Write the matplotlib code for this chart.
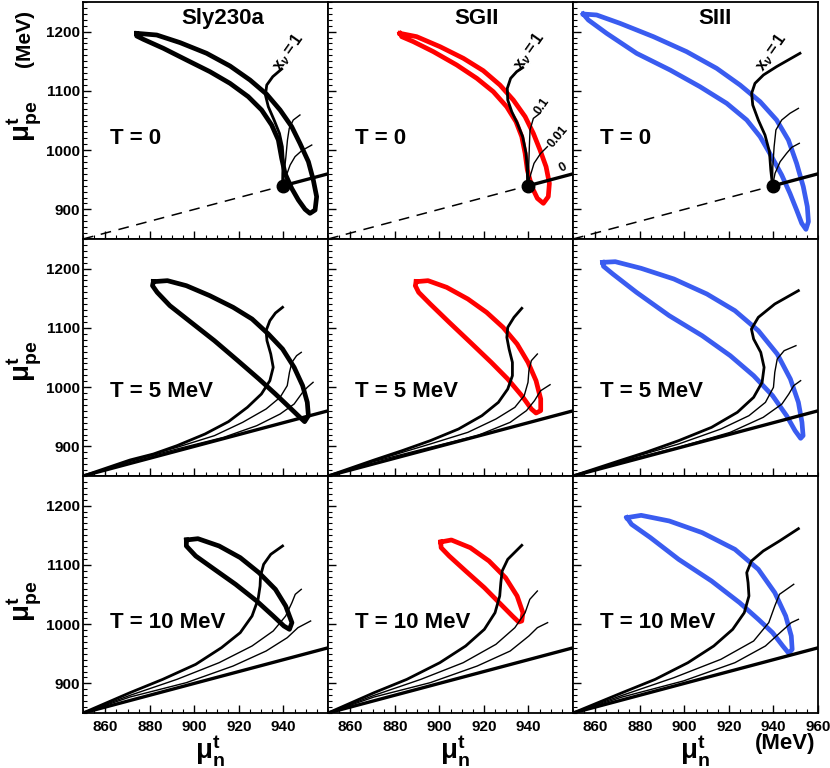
import numpy as np
import matplotlib
matplotlib.use("Agg")
import matplotlib.pyplot as plt
from matplotlib.ticker import MultipleLocator

plt.rcParams['font.family'] = ['Liberation Sans', 'DejaVu Sans']
plt.rcParams['font.weight'] = 'bold'
plt.rcParams['mathtext.fontset'] = 'custom'
plt.rcParams['mathtext.rm'] = 'Liberation Sans:bold'
plt.rcParams['mathtext.bf'] = 'Liberation Sans:bold'
plt.rcParams['mathtext.it'] = 'Liberation Sans:italic'

# ---- data (mu_n, mu_pe in MeV) ----
models = ['Sly230a', 'SGII', 'SIII']
temps = ['T = 0', 'T = 5 MeV', 'T = 10 MeV']
loop_colors = ['black', '#ff0000', '#3a5cf0']
mass_n = 939.6

# instability contours (closed loops)
sly_t0_loop = ([874.1, 883.1, 893.6, 905.5, 916.0, 925.0, 932.5, 938.5, 943.7, 947.4, 951.2, 953.4, 954.9, 954.2, 951.9,
                949.7, 946.7, 943.7, 940.7, 939.2, 937.7, 934.7, 930.2, 924.2, 916.0, 907.0, 896.5, 886.1, 877.1, 874.1],
               [1197.1, 1194.3, 1181.4, 1163.4, 1142.0, 1118.3, 1094.2, 1067.7, 1039.6, 1011.5, 980.5, 949.6, 921.4, 898.9, 893.3,
                900.1, 915.8, 935.5, 960.8, 986.1, 1017.1, 1042.4, 1067.7, 1090.2, 1112.7, 1132.4, 1152.1, 1171.8, 1187.0, 1192.6])
sgii_t0_loop = ([882.3, 889.8, 900.3, 910.8, 919.7, 927.2, 933.2, 938.5, 942.2, 945.2, 947.9, 949.4, 948.9, 946.7,
                 944.0, 941.5, 939.5, 938.5, 937.0, 934.4, 930.2, 924.2, 916.8, 907.8, 897.3, 888.3, 883.1],
                [1197.1, 1191.5, 1174.6, 1154.9, 1134.1, 1109.9, 1084.6, 1056.5, 1028.3, 1000.2, 972.1, 943.9, 921.4, 910.2,
                 918.6, 938.3, 966.5, 994.6, 1022.7, 1048.0, 1073.4, 1098.7, 1121.2, 1143.7, 1166.2, 1183.1, 1191.5])
siii_t0_loop = ([854.6, 860.6, 871.1, 886.1, 901.0, 914.5, 925.0, 934.0, 941.4, 946.7, 950.4, 953.4, 955.2, 955.7, 954.6,
                 952.7, 950.4, 947.4, 943.7, 939.2, 934.0, 928.0, 919.0, 907.0, 893.6, 878.6, 865.1, 856.9],
                [1229.7, 1228.1, 1214.0, 1191.5, 1166.2, 1138.0, 1109.9, 1081.8, 1050.9, 1017.1, 977.7, 938.3, 904.6, 879.3, 866.3,
                 876.4, 898.9, 927.1, 958.0, 988.9, 1022.7, 1050.9, 1079.0, 1107.1, 1135.2, 1163.3, 1197.1, 1219.6])
sly_t5_loop = ([881.6, 887.9, 896.4, 906.9, 917.4, 925.9, 933.2, 939.6, 944.8, 948.6, 950.7, 951.2, 949.5,
                947.4, 942.7, 936.4, 929.0, 919.5, 909.0, 898.5, 889.0, 883.3, 881.2],
               [1178.0, 1179.7, 1171.2, 1154.4, 1134.7, 1115.0, 1089.7, 1064.3, 1033.4, 1002.5, 974.3, 951.8, 941.7,
                949.0, 965.9, 988.4, 1013.7, 1044.7, 1078.4, 1109.4, 1137.5, 1160.0, 1171.2])
sgii_t5_loop = ([889.6, 894.9, 903.3, 912.8, 921.2, 928.6, 934.9, 939.8, 943.4, 945.5, 945.5, 943.4,
                 941.3, 937.0, 930.7, 923.3, 913.9, 904.4, 895.9, 890.7, 889.2],
                [1178.0, 1179.7, 1168.4, 1148.7, 1126.2, 1100.9, 1072.8, 1041.8, 1010.9, 980.0, 960.3, 956.3,
                 963.1, 985.6, 1013.7, 1041.8, 1075.6, 1109.4, 1140.3, 1160.0, 1171.2])
siii_t5_loop = ([863.3, 869.0, 880.6, 895.3, 910.1, 922.7, 933.2, 941.7, 947.6, 951.2, 952.8, 953.3, 952.2,
                 949.7, 945.9, 939.6, 931.1, 920.6, 908.0, 893.2, 878.5, 867.9, 863.7],
                [1210.6, 1211.7, 1200.5, 1182.5, 1157.2, 1129.0, 1095.3, 1055.9, 1013.7, 974.3, 940.6, 918.1, 913.6,
                 926.5, 951.8, 985.6, 1019.3, 1053.1, 1086.8, 1120.6, 1160.0, 1190.9, 1203.9])
sly_t10_loop = ([896.4, 901.6, 911.1, 920.6, 929.0, 936.4, 941.0, 943.8, 942.7,
                 940.2, 935.4, 928.0, 918.5, 909.0, 900.6, 896.4],
                [1142.0, 1144.2, 1131.9, 1112.2, 1086.8, 1058.7, 1030.6, 1002.5, 991.2,
                 996.8, 1013.7, 1039.0, 1067.2, 1092.5, 1115.0, 1131.9])
sgii_t10_loop = ([900.6, 905.4, 913.9, 922.3, 929.7, 934.9, 937.5, 937.0, 935.6,
                  932.8, 927.6, 920.2, 911.8, 904.4, 900.8],
                 [1138.6, 1142.0, 1129.0, 1106.5, 1078.4, 1047.5, 1019.3, 1005.3, 1003.6,
                  1013.7, 1033.4, 1061.5, 1089.7, 1115.0, 1129.0])
siii_t10_loop = ([874.2, 880.6, 893.2, 908.0, 922.7, 933.2, 940.6, 945.5, 948.0, 948.4, 946.9,
                  944.2, 939.6, 933.2, 924.8, 912.2, 897.4, 884.8, 876.3],
                 [1179.7, 1183.6, 1174.1, 1154.4, 1126.2, 1092.5, 1053.1, 1013.7, 980.0, 957.5, 950.7,
                  963.1, 985.6, 1008.1, 1036.2, 1072.8, 1109.4, 1145.9, 1168.4])

# trajectories for x_nu = 1, 0.1, 0.01
sly_t0_x1 = ([939.6, 939.7, 939.9, 939.5, 938.2, 935.8, 933.2, 931.9, 932.5, 935.2, 939.2],
             [939.6, 960.8, 983.3, 1005.8, 1028.3, 1050.8, 1073.3, 1093.0, 1109.9, 1124.0, 1136.9])
sly_t0_x01 = ([939.6, 940.3, 941.1, 941.8, 942.6, 944.4, 947.4], [939.6, 960.8, 988.9, 1017.1, 1036.8, 1050.8, 1059.3])
sly_t0_x001 = ([939.6, 941.1, 943.0, 945.2, 948.2, 952.7], [939.6, 955.2, 974.9, 989.0, 999.1, 1008.6])
sgii_t0_x1 = ([939.6, 939.5, 938.9, 937.4, 935.0, 932.5, 930.7, 930.5, 932.0, 934.7, 937.4],
              [939.6, 966.5, 994.6, 1022.7, 1045.2, 1064.9, 1084.6, 1104.3, 1121.2, 1132.4, 1139.2])
sgii_t0_x01 = ([939.6, 940.1, 940.4, 940.7, 942.2, 945.2], [939.6, 972.1, 1005.8, 1033.9, 1053.6, 1062.1])
sgii_t0_x001 = ([939.6, 940.7, 942.5, 945.5, 948.5], [939.6, 955.2, 977.7, 994.6, 1005.8])
siii_t0_x1 = ([939.6, 938.8, 938.2, 936.2, 933.2, 930.7, 930.2, 931.7, 935.5, 941.4, 951.9],
              [939.6, 966.5, 997.4, 1025.5, 1050.8, 1076.2, 1095.9, 1112.7, 1126.8, 1140.9, 1163.4])
siii_t0_x01 = ([939.6, 939.7, 940.3, 941.1, 943.7, 947.4, 951.2], [939.6, 972.1, 1005.8, 1034.0, 1050.8, 1062.1, 1070.5])
siii_t0_x001 = ([939.6, 940.7, 943.0, 945.9, 948.2, 951.6], [939.6, 960.8, 980.5, 994.6, 1004.7, 1011.5])

sly_t5_x1 = ([850, 871.1, 881.6, 892.2, 904.8, 915.3, 923.8, 930.1, 933.9, 935.4, 934.3, 932.6, 932.2, 933.9, 936.4, 939.6],
             [850, 877, 887.1, 901.2, 920.9, 941.7, 965.9, 988.4, 1010.9, 1033.4, 1055.9, 1078.4, 1095.3, 1112.2, 1125.1, 1134.7])
sly_t5_x01 = ([850, 871.1, 892.2, 909.0, 921.7, 932.2, 938.5, 941.7, 942.7, 943.8, 945.9, 948.0],
              [850, 875.5, 898.4, 918.1, 940.6, 963.1, 982.8, 1002.5, 1025.0, 1041.8, 1053.1, 1058.7])
sly_t5_x001 = ([850, 871.1, 892.2, 913.2, 928.0, 938.5, 944.8, 948.6, 950.7, 953.3],
               [850, 874.5, 895.6, 915.3, 934.9, 954.6, 971.5, 991.2, 999.6, 1008.1])
sgii_t5_x1 = ([850, 870.7, 883.3, 895.9, 908.6, 919.1, 926.5, 930.7, 932.8, 932.8, 931.3, 930.3, 930.7, 933.5, 937.0],
              [850, 877, 892.8, 909.6, 929.3, 951.8, 974.3, 996.8, 1019.3, 1041.8, 1064.3, 1084.0, 1100.9, 1117.8, 1133.0])
sgii_t5_x01 = ([850, 870.7, 895.9, 912.8, 925.4, 933.9, 938.1, 939.8, 940.2, 941.3, 944.0],
               [850, 875.5, 904.0, 923.7, 946.2, 965.9, 985.6, 1008.1, 1027.8, 1044.7, 1055.9])
sgii_t5_x001 = ([850, 870.7, 895.9, 917.0, 931.8, 939.1, 942.7, 945.5, 949.7],
                [850, 874.5, 898.4, 918.1, 940.6, 960.3, 977.1, 994.0, 1004.1])
siii_t5_x1 = ([850, 871.1, 882.7, 897.4, 912.2, 923.8, 931.1, 934.9, 935.8, 934.3, 931.1, 930.1, 933.2, 940.6, 951.2],
              [850, 876, 890.0, 909.6, 932.1, 957.5, 982.8, 1008.1, 1033.4, 1058.7, 1081.2, 1098.1, 1117.8, 1140.3, 1162.8])
siii_t5_x01 = ([850, 871.1, 897.4, 916.4, 929.0, 936.4, 940.0, 940.6, 941.7, 944.8, 950.1],
               [850, 875, 904.0, 929.3, 951.8, 974.3, 999.6, 1025.0, 1047.5, 1061.5, 1070.0])
siii_t5_x001 = ([850, 871.1, 897.4, 920.6, 935.4, 943.8, 946.9, 949.1, 952.2],
                [850, 874, 898.4, 923.7, 949.0, 971.5, 988.4, 1002.5, 1010.9])

sly_t10_x1 = ([850, 871.1, 885.8, 900.6, 912.2, 920.6, 925.9, 928.6, 929.5, 929.7, 931.1, 934.3, 939.6],
              [850, 884.3, 906.8, 932.1, 960.3, 985.6, 1013.7, 1041.8, 1064.3, 1081.2, 1100.9, 1117.8, 1131.9])
sly_t10_x01 = ([850, 871.1, 892.2, 911.1, 925.9, 935.4, 941.0, 943.8, 945.3, 948.0],
               [850, 879.8, 906.8, 934.9, 963.1, 988.4, 1013.7, 1036.2, 1050.3, 1058.7])
sly_t10_x001 = ([850, 871.1, 896.4, 917.4, 932.2, 941.7, 946.5, 952.2],
                [850, 877.0, 901.2, 929.3, 954.6, 977.1, 994.0, 1005.3])
sgii_t10_x1 = ([850, 870.7, 885.4, 900.2, 911.8, 920.2, 925.0, 927.1, 927.6, 928.2, 930.7, 937.0],
               [850, 884.3, 906.8, 934.9, 963.1, 991.2, 1019.3, 1047.5, 1070.0, 1089.7, 1109.4, 1133.0])
sgii_t10_x01 = ([850, 870.7, 891.7, 910.7, 925.4, 933.9, 938.5, 940.6, 944.0],
                [850, 879.8, 906.8, 934.9, 965.9, 994.0, 1019.3, 1041.8, 1055.9])
sgii_t10_x001 = ([850, 870.7, 895.9, 917.0, 931.8, 940.2, 944.0, 948.6],
                 [850, 877.0, 901.2, 929.3, 954.6, 980.0, 994.0, 1002.5])
siii_t10_x1 = ([850, 872.1, 886.9, 901.6, 913.2, 921.7, 926.9, 929.0, 928.6, 928.0, 930.1, 935.4, 942.7, 951.2],
               [850, 884.3, 906.8, 934.9, 963.1, 991.2, 1019.3, 1047.5, 1070.0, 1086.8, 1106.5, 1123.4, 1140.3, 1161.1])
siii_t10_x01 = ([850, 872.1, 895.3, 916.4, 931.1, 937.9, 940.6, 942.7, 949.1],
                [850, 879.8, 909.6, 940.6, 971.5, 1002.5, 1030.6, 1050.3, 1067.2])
siii_t10_x001 = ([850, 872.1, 899.5, 922.7, 936.4, 943.8, 948.0, 951.2],
                 [850, 877.0, 904.0, 934.9, 963.1, 988.4, 1002.5, 1008.1])

loops = [[sly_t0_loop, sgii_t0_loop, siii_t0_loop],
         [sly_t5_loop, sgii_t5_loop, siii_t5_loop],
         [sly_t10_loop, sgii_t10_loop, siii_t10_loop]]
curves = [[(sly_t0_x1, sly_t0_x01, sly_t0_x001), (sgii_t0_x1, sgii_t0_x01, sgii_t0_x001), (siii_t0_x1, siii_t0_x01, siii_t0_x001)],
          [(sly_t5_x1, sly_t5_x01, sly_t5_x001), (sgii_t5_x1, sgii_t5_x01, sgii_t5_x001), (siii_t5_x1, siii_t5_x01, siii_t5_x001)],
          [(sly_t10_x1, sly_t10_x01, sly_t10_x001), (sgii_t10_x1, sgii_t10_x01, sgii_t10_x001), (siii_t10_x1, siii_t10_x01, siii_t10_x001)]]

title_x = [912.9, 916.9, 913.8]
temp_y = [1019, 992, 1002]
xnu1_label = [(942.2, 1166), (940.4, 1167.8), (939.2, 1166)]

# ---- figure ----
fig = plt.figure(figsize=(8.3, 7.68), dpi=100)
W, H = 830, 768
lefts = [83, 328, 573]
tops = [2, 239, 476]
aw, ah = 245, 237

for r in range(3):
    for c in range(3):
        ax = fig.add_axes([lefts[c] / W, 1 - (tops[r] + ah) / H, aw / W, ah / H])
        ax.set_xlim(850, 960)
        ax.set_ylim(850, 1250)

        lx, ly = loops[r][c]
        ax.plot(np.append(lx, lx[0]), np.append(ly, ly[0]), color=loop_colors[c],
                lw=3.4, solid_joinstyle='round', zorder=2)

        c1, c01, c001 = curves[r][c]
        ax.plot(c1[0], c1[1], color='black', lw=2.0, zorder=3, solid_joinstyle='round')
        ax.plot(c01[0], c01[1], color='black', lw=1.0, zorder=3, solid_joinstyle='round')
        ax.plot(c001[0], c001[1], color='black', lw=1.0, zorder=3, solid_joinstyle='round')

        if r == 0:
            ax.plot([850, mass_n], [850, mass_n], color='black', lw=1.1,
                    dashes=(7, 5), zorder=3)
            ax.plot([mass_n, 960], [mass_n, 960], color='black', lw=2.4, zorder=3)
            ax.plot([mass_n], [mass_n], 'o', color='black', ms=9, zorder=4)
            ax.text(title_x[c], 1213, models[c], fontsize=16, fontweight='bold',
                    ha='center', va='baseline')
            ax.text(xnu1_label[c][0], xnu1_label[c][1], r'$\mathbf{x}_{\nu}\mathbf{=1}$',
                    fontsize=12, rotation=55, ha='center', va='center')
        else:
            ax.plot([850, 960], [850, 960], color='black', lw=2.4, zorder=3)

        if r == 0 and c == 1:
            ax.text(945.9, 1074.5, '0.1', fontsize=9, rotation=55, ha='center', va='center')
            ax.text(953.4, 1022.7, '0.01', fontsize=9, rotation=50, ha='center', va='center')
            ax.text(955.4, 969.8, '0', fontsize=9, rotation=30, ha='center', va='center')

        ax.text(862, temp_y[r], temps[r], fontsize=16, fontweight='bold',
                ha='left', va='center')

        ax.xaxis.set_major_locator(MultipleLocator(20))
        ax.xaxis.set_minor_locator(MultipleLocator(5))
        ax.yaxis.set_major_locator(MultipleLocator(100))
        ax.yaxis.set_minor_locator(MultipleLocator(10))
        ax.tick_params(which='both', direction='in', top=False, right=False)
        ax.tick_params(which='major', length=6, width=1)
        ax.tick_params(which='minor', length=3, width=0.8)
        ax.tick_params(axis='y', labelsize=11, pad=2)
        ax.tick_params(axis='x', labelsize=11, pad=5)
        for s in ax.spines.values():
            s.set_linewidth(1.3)

        if c == 2 and r == 2:
            xt = [860, 880, 900, 920, 940, 960]
        else:
            xt = [860, 880, 900, 920, 940]
        ax.set_xticks(xt)
        ax.set_xticklabels([str(v) for v in xt] if r == 2 else [])
        ax.set_yticks([900, 1000, 1100, 1200])
        ax.set_yticklabels(['900', '1000', '1100', '1200'] if c == 0 else [])
        for lab in ax.get_xticklabels() + ax.get_yticklabels():
            lab.set_fontweight('bold')

# axis titles
for yc in [0.842, 0.529, 0.217]:
    fig.text(0.030, yc, r'$\mathrm{\mu^{t}_{pe}}$', fontsize=20, rotation=90,
             ha='center', va='center')
fig.text(0.030, 0.950, '(MeV)', fontsize=15, fontweight='bold', rotation=90,
         ha='center', va='center')
for xc in [210, 455, 695]:
    fig.text(xc / W, 0.022, r'$\mathrm{\mu^{t}_{n}}$', fontsize=20, ha='center', va='center')
fig.text(0.946, 0.032, '(MeV)', fontsize=16, fontweight='bold', ha='center', va='center')

plt.savefig('out.png', dpi=100)
plt.close()
